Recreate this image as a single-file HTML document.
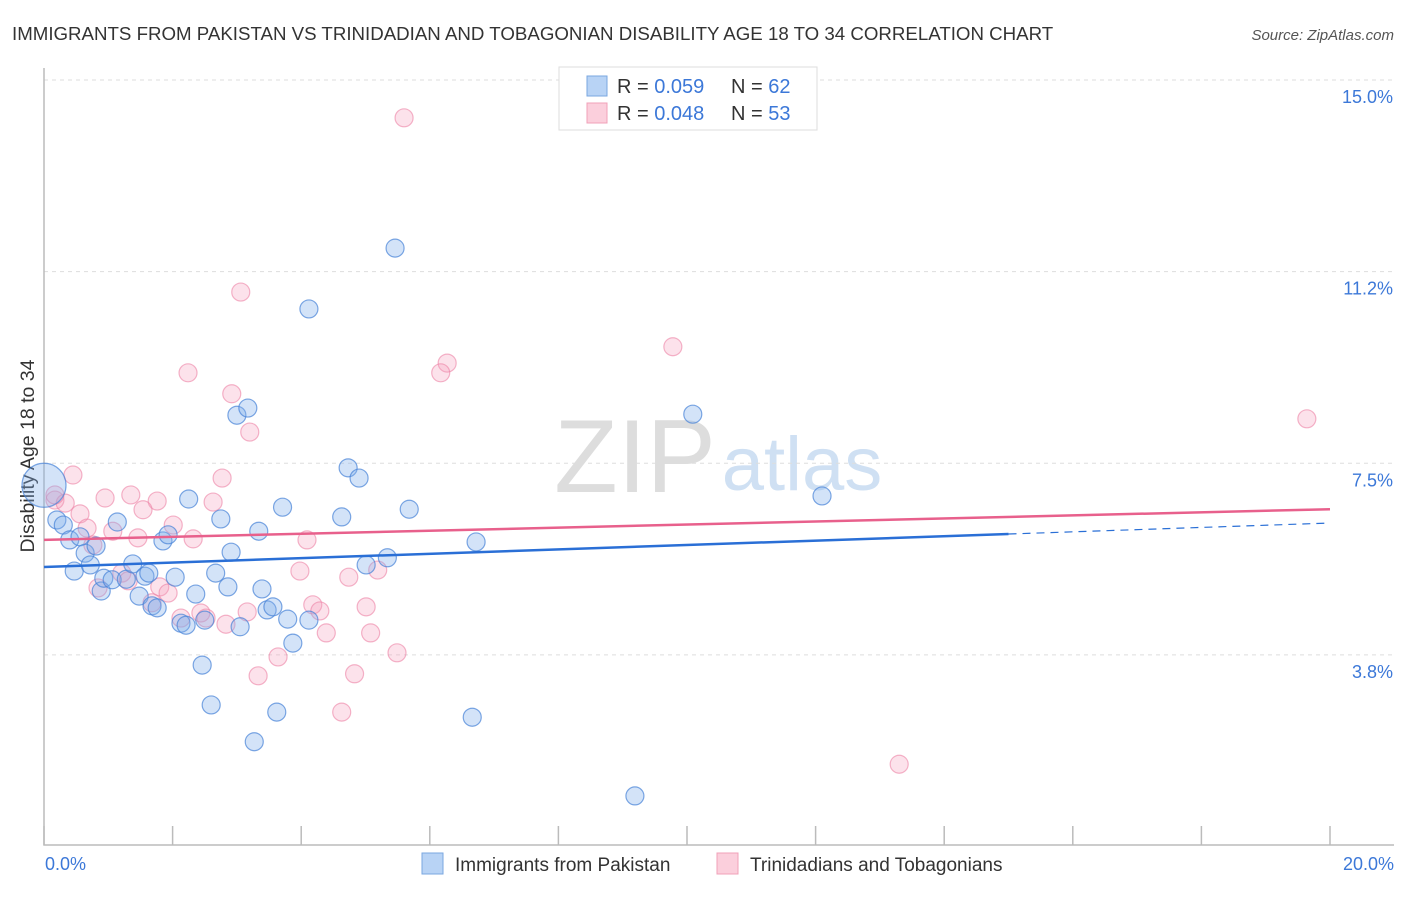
<!DOCTYPE html>
<html><head><meta charset="utf-8"><style>
body{margin:0;background:#fff;font-family:"Liberation Sans",sans-serif;}
svg text{font-family:"Liberation Sans",sans-serif;}
</style></head><body>
<svg id="chart" width="1406" height="892" xmlns="http://www.w3.org/2000/svg">
<text x="12" y="40" font-size="18.7" fill="#333">IMMIGRANTS FROM PAKISTAN VS TRINIDADIAN AND TOBAGONIAN DISABILITY AGE 18 TO 34 CORRELATION CHART</text>
<text x="1394" y="40" font-size="15" fill="#555" text-anchor="end" font-style="italic">Source: ZipAtlas.com</text>
<text transform="translate(34,456) rotate(-90)" font-size="19.5" fill="#333" text-anchor="middle">Disability Age 18 to 34</text>
<g>
<text x="635" y="492" font-size="104" fill="#ddd" text-anchor="middle" font-family="Liberation Serif,serif">ZIP</text>
<text x="802" y="490" font-size="76" fill="#cfe0f3" text-anchor="middle">atlas</text>
</g>
<g id="grid"></g><g id="axes"></g><g id="pts"></g><g id="trend"></g>
<g>
<rect x="559" y="67" width="258" height="63" fill="#fff" stroke="#ddd"/>
<rect x="587" y="76" width="20" height="20" fill="#b8d3f5" stroke="#7aa7e0"/>
<text x="617" y="93" font-size="20" fill="#333">R = <tspan fill="#3c78d8">0.059</tspan></text>
<text x="731" y="93" font-size="20" fill="#333">N = <tspan fill="#3c78d8">62</tspan></text>
<rect x="587" y="103" width="20" height="20" fill="#fbcfdc" stroke="#f0a0b8"/>
<text x="617" y="120" font-size="20" fill="#333">R = <tspan fill="#3c78d8">0.048</tspan></text>
<text x="731" y="120" font-size="20" fill="#333">N = <tspan fill="#3c78d8">53</tspan></text>
</g>
<g>
<rect x="422" y="853" width="21" height="21" fill="#b8d3f5" stroke="#7aa7e0"/>
<text x="455" y="871" font-size="19" fill="#333">Immigrants from Pakistan</text>
<rect x="717" y="853" width="21" height="21" fill="#fbcfdc" stroke="#f0a0b8"/>
<text x="750" y="871" font-size="19" fill="#333">Trinidadians and Tobagonians</text>
</g>
</svg>
<script>
const yTicks=[15,11.25,7.5,3.75];
const yTickLabels=["15.0%","11.2%","7.5%","3.8%"];
const xTicks=[0,2,4,6,8,10,12,14,16,18,20];
const xTickLabels=["0.0%","20.0%"];
const blueX=[0,0.2,0.3,0.4,0.47,0.56,0.64,0.72,0.81,0.89,0.93,1.06,1.14,1.28,1.38,1.48,1.57,1.63,1.68,1.76,1.85,1.93,2.04,2.13,2.21,2.25,2.36,2.46,2.5,2.6,2.67,2.75,2.86,2.91,3.0,3.05,3.17,3.27,3.34,3.39,3.47,3.56,3.62,3.71,3.79,3.87,4.12,4.12,4.63,4.73,4.9,5.01,5.34,5.46,5.68,6.66,6.72,9.19,10.09,12.1];
const blueY=[7.07,6.39,6.29,6.0,5.39,6.06,5.74,5.51,5.88,5.0,5.25,5.22,6.35,5.23,5.53,4.9,5.29,5.35,4.71,4.67,5.98,6.1,5.27,4.37,4.33,6.8,4.94,3.55,4.43,2.77,5.35,6.41,5.08,5.76,8.44,4.3,8.58,2.05,6.17,5.04,4.63,4.69,2.63,6.64,4.45,3.98,10.52,4.43,6.45,7.41,7.21,5.51,5.65,11.71,6.6,2.53,5.96,0.99,8.46,6.86];
const pinkX=[5.6,3.06,9.78,2.24,6.27,6.17,2.92,3.2,19.64,0.45,2.77,0.17,0.33,0.95,1.35,1.76,2.63,0.56,1.54,2.01,0.67,1.07,1.46,2.32,4.09,0.76,3.98,4.74,5.19,1.21,0.84,1.31,1.8,1.93,1.68,2.13,2.44,2.52,2.83,3.16,4.18,4.29,5.01,4.39,5.08,3.64,5.49,3.33,4.83,4.63,13.3,0.17];
const pinkY=[14.26,10.85,9.78,9.27,9.46,9.27,8.86,8.11,8.37,7.27,7.21,6.78,6.72,6.82,6.88,6.76,6.74,6.51,6.59,6.29,6.23,6.17,6.04,6.02,6.0,5.9,5.39,5.27,5.41,5.35,5.06,5.2,5.08,4.96,4.77,4.47,4.57,4.47,4.35,4.59,4.73,4.61,4.69,4.18,4.18,3.71,3.79,3.34,3.38,2.63,1.61,6.88];
const blueTrend=[5.47,6.33];
const pinkTrend=[6.0,6.6];
const NS="http://www.w3.org/2000/svg";
const X=v=>44+v*64.3, Y=v=>80+(15-v)*51.1;
function mk(t,a,p){const e=document.createElementNS(NS,t);for(const k in a)e.setAttribute(k,a[k]);p.appendChild(e);return e;}
const grid=document.getElementById('grid'),axes=document.getElementById('axes'),pts=document.getElementById('pts'),tr=document.getElementById('trend');
yTicks.forEach((v,i)=>{
 const l=mk('line',{x1:44,x2:1394,y1:Y(v),y2:Y(v),stroke:'#ddd','stroke-dasharray':'4,4'},grid);
 
 
 const t=mk('text',{x:1393,y:Y(v)+23,'font-size':18,fill:'#3c78d8','text-anchor':'end'},axes);
 t.textContent=yTickLabels[i];
 
 
});
const ax=mk('path',{d:'M44 68V845H1394',stroke:'#bbb',fill:'none','stroke-width':1.5},axes);


xTicks.forEach(v=>{
 const l=mk('line',{x1:X(v),x2:X(v),y1:826,y2:845,stroke:'#bbb','stroke-width':1.5},axes);
 
 
});
[[0,'start',45],[20,'end',1394]].forEach((d,i)=>{
 const t=mk('text',{x:d[2],y:870,'font-size':18,fill:'#3c78d8','text-anchor':d[1]},axes);
 t.textContent=xTickLabels[i];
 
 
});
pinkX.forEach((v,i)=>{
 const c=mk('circle',{cx:X(v),cy:Y(pinkY[i]),r:9,fill:'rgba(244,160,188,0.3)',stroke:'rgba(236,130,165,0.6)','stroke-width':1.2},pts);
 
 
});
blueX.forEach((v,i)=>{
 const c=mk('circle',{cx:X(v),cy:Y(blueY[i]),r:i==0?22:9,fill:'rgba(130,175,235,0.35)',stroke:'rgba(70,130,215,0.7)','stroke-width':1.2},pts);
 
 
});
const bAt=x=>blueTrend[0]+(blueTrend[1]-blueTrend[0])*x/20;
const b1=mk('line',{x1:X(0),y1:Y(bAt(0)),x2:X(15),y2:Y(bAt(15)),stroke:'#2a6fd6','stroke-width':2.5},tr);


const b2=mk('line',{x1:X(15),y1:Y(bAt(15)),x2:X(20),y2:Y(bAt(20)),stroke:'#2a6fd6','stroke-width':1.2,'stroke-dasharray':'8,6'},tr);


const p1=mk('line',{x1:X(0),y1:Y(pinkTrend[0]),x2:X(20),y2:Y(pinkTrend[1]),stroke:'#e8608c','stroke-width':2.5},tr);


</script>
</body></html>
